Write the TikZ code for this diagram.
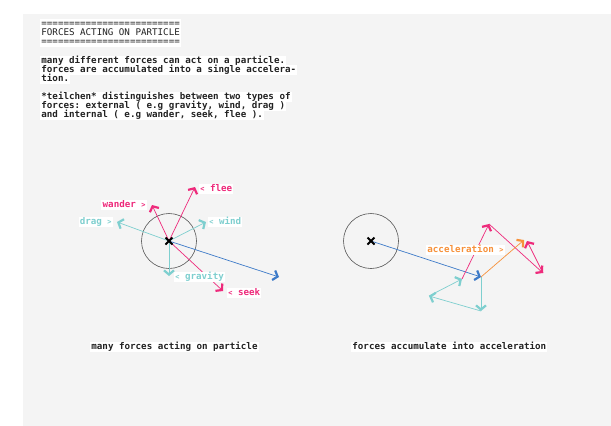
\documentclass[tikz,border=0pt]{standalone}
\usepackage{fontspec}
\setmonofont{DejaVu Sans Mono}
\usetikzlibrary{arrows.meta}
\definecolor{bg}{HTML}{F4F4F4}
\definecolor{pink}{HTML}{EE2A7B}
\definecolor{teal}{HTML}{7ECFCF}
\definecolor{blue}{HTML}{3C7AC8}
\definecolor{orange}{HTML}{F7913A}
\definecolor{circ}{HTML}{555555}
\definecolor{ink}{HTML}{222222}
\newcommand\chevR{\scalebox{0.75}[0.8]{>}}
\newcommand\chevL{\scalebox{0.75}[0.8]{<}}
\tikzset{
  txt/.style={font=\ttfamily\fontsize{9.2}{9}\selectfont, fill=white, anchor=west, text=ink,
    inner xsep=1.2pt, inner ysep=0.6pt, text height=6.6pt, text depth=2pt},
  btxt/.style={txt, font=\ttfamily\bfseries\fontsize{9.2}{9}\selectfont},
  lbl/.style={btxt},
  vec/.style={line width=0.7pt, -{Straight Barb[length=4.2pt,width=10pt,line width=2.2pt]}},
  cross/.style={line width=2pt, black},
  ring/.style={draw=circ, line width=0.6pt}
}
\begin{document}
\begin{tikzpicture}[x=1pt,y=-1pt]
\useasboundingbox (0,0) rectangle (611,426);
\fill[bg] (23,14) rectangle (611,426);
% header text
\node[txt] (h1) at (40,24) {=========================};
\node[txt] (h2) at (40,33) {FORCES ACTING ON PARTICLE};
\node[txt] (h3) at (40,42.5) {=========================};
\node[btxt] (p1) at (40,61) {many different forces can act on a particle.};
\node[btxt] (p2) at (40,70) {forces are accumulated into a single accelera-};
\node[btxt] (p3) at (40,79) {tion.};
\node[btxt] (q1) at (40,97) {*teilchen* distinguishes between two types of};
\node[btxt] (q2) at (40,106) {forces: external ( e.g gravity, wind, drag )};
\node[btxt] (q3) at (40,115) {and internal ( e.g wander, seek, flee ).};

% ---------- diagram 1 ----------
\coordinate (c1) at (169,241);
\draw[ring] (c1) circle (27.5);
\coordinate (flee1) at (195,187);
\coordinate (wander1) at (152,205);
\coordinate (drag1) at (117,222);
\coordinate (wind1) at (206,222);
\coordinate (grav1) at (169,276);
\coordinate (seek1) at (223,291);
\coordinate (vel1) at (279,277);
\draw[vec, teal] (c1) -- (drag1);
\draw[vec, teal] (c1) -- (wind1);
\draw[vec, teal] (c1) -- (grav1);
\draw[vec, pink] (c1) -- (flee1);
\draw[vec, pink] (c1) -- (wander1);
\draw[vec, pink] (c1) -- (seek1);
\draw[vec, blue] (c1) -- (vel1);
\draw[cross] ([shift={(-3.5,-3.5)}]c1) -- ([shift={(3.5,3.5)}]c1)
             ([shift={(-3.5,3.5)}]c1) -- ([shift={(3.5,-3.5)}]c1);
\node[lbl, text=pink] (lflee) at (199,189) {\chevL{} flee};
\node[lbl, text=pink, anchor=east] (lwander) at (147,205) {wander \chevR};
\node[lbl, text=teal, anchor=east] (ldrag) at (113,222) {drag \chevR};
\node[lbl, text=teal] (lwind) at (208,222) {\chevL{} wind};
\node[lbl, text=teal] (lgrav) at (174,277) {\chevL{} gravity};
\node[lbl, text=pink] (lseek) at (227,293) {\chevL{} seek};

% ---------- diagram 2 ----------
\coordinate (c2) at (371,241);
\draw[ring] (c2) circle (27.5);
\coordinate (a) at (481,277);
\coordinate (b) at (481,311);
\coordinate (c) at (429,296);
\coordinate (d) at (462,279);
\coordinate (e) at (489,224);
\coordinate (f) at (543,273);
\coordinate (g) at (527,241);
\coordinate (acc) at (524,240);
\draw[vec, blue] (c2) -- (a);
\draw[vec, teal] (a) -- (b);
\draw[vec, teal] (b) -- (c);
\draw[vec, teal] (c) -- (d);
\draw[vec, pink] (d) -- (e);
\draw[vec, pink] (e) -- (f);
\draw[vec, pink] (f) -- (g);
\draw[vec, orange] (a) -- (acc);
\draw[cross] ([shift={(-3.5,-3.5)}]c2) -- ([shift={(3.5,3.5)}]c2)
             ([shift={(-3.5,3.5)}]c2) -- ([shift={(3.5,-3.5)}]c2);
\node[lbl, text=orange] (lacc) at (426,250) {acceleration \chevR};

% captions
\node[btxt] (cap1) at (90,347) {many forces acting on particle};
\node[btxt] (cap2) at (351,347) {forces accumulate into acceleration};
\end{tikzpicture}
\end{document}
